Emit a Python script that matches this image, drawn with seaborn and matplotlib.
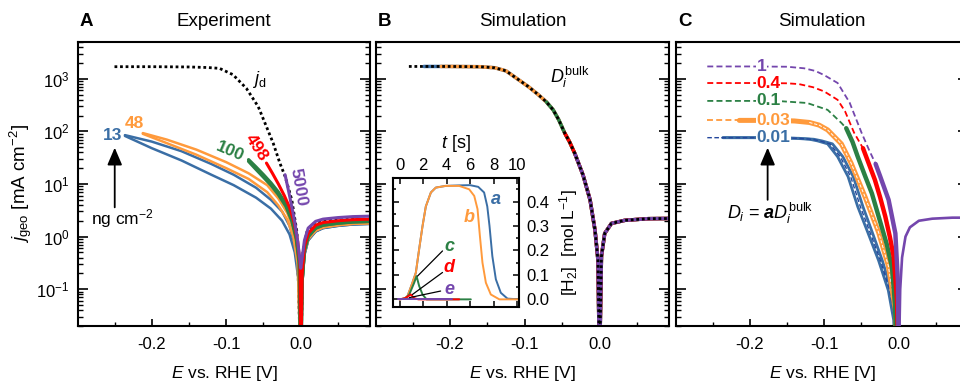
import matplotlib
matplotlib.use("Agg")
import matplotlib.pyplot as plt
import seaborn as sns
from matplotlib.ticker import LogLocator, MultipleLocator, NullFormatter

# style
sns.set_theme(style="ticks")
plt.rcParams["font.family"] = ["Liberation Sans", "DejaVu Sans"]
plt.rcParams.update({
    "mathtext.fontset": "custom",
    "mathtext.rm": "Liberation Sans",
    "mathtext.it": "Liberation Sans:italic",
    "mathtext.bf": "Liberation Sans:bold",
    "axes.unicode_minus": False,
    "axes.linewidth": 1.5,
    "axes.edgecolor": "black",
    "axes.labelcolor": "black",
    "text.color": "black",
    "xtick.color": "black",
    "ytick.color": "black",
    "xtick.direction": "in",
    "ytick.direction": "in",
})
BFIT = "mathtext.bfit" in plt.rcParams
if BFIT:
    plt.rcParams["mathtext.bfit"] = "Liberation Sans:italic:bold"

BLUE = "#3a6ea5"
ORANGE = "#ff9a3c"
GREEN = "#2b8044"
RED = "#ff0000"
PURPLE = "#7446ad"
NAVY = "#24479c"

# ---------------- panel A: experiment ----------------
E_pos = [0.0, 0.002, 0.005, 0.01, 0.02, 0.03, 0.05, 0.07, 0.095]

E_13 = [-0.236, -0.2, -0.16, -0.12, -0.09, -0.06, -0.04, -0.025, -0.015, -0.008, -0.003]
j_13_fwd = [85, 64, 42, 24, 15, 8.5, 5.0, 3.0, 1.6, 0.7, 0.25]
j_13_rev = [82, 48, 28, 15, 9.5, 5.5, 3.4, 2.0, 1.1, 0.5, 0.15]
j_13_pos = [0.003, 0.12, 0.45, 0.85, 1.25, 1.45, 1.6, 1.7, 1.75]

E_48 = [-0.212, -0.18, -0.14, -0.1, -0.07, -0.045, -0.03, -0.018, -0.01, -0.004]
j_48_fwd = [93, 70, 45, 26, 16, 9.5, 5.3, 2.8, 1.4, 0.45]
j_48_rev = [90, 60, 36, 20, 12.5, 7, 3.9, 2.1, 1.0, 0.3]
j_48_pos = [0.003, 0.13, 0.5, 0.9, 1.3, 1.5, 1.65, 1.75, 1.8]

E_100 = [-0.07, -0.06, -0.05, -0.04, -0.03, -0.02, -0.012, -0.006, -0.002]
j_100_fwd = [29, 21, 15, 10.5, 7, 4.2, 2.2, 1.0, 0.35]
j_100_rev = [27, 19, 13.5, 9.5, 6.3, 3.8, 2.0, 0.9, 0.3]
j_100_pos = [0.003, 0.15, 0.55, 1.0, 1.45, 1.65, 1.8, 1.9, 1.95]

E_498 = [-0.046, -0.038, -0.03, -0.022, -0.015, -0.009, -0.004, -0.001]
j_498 = [25, 16, 10, 6, 3.6, 1.9, 0.8, 0.3]
j_498_pos = [0.003, 0.2, 0.65, 1.15, 1.65, 1.85, 2.0, 2.1, 2.15]

E_5000 = [-0.021, -0.016, -0.012, -0.008, -0.004, -0.001]
j_5000 = [15, 7, 3.7, 1.9, 0.8, 0.35]
j_5000_pos = [0.25, 0.4, 0.85, 1.45, 1.95, 2.15, 2.3, 2.4, 2.45]

E_jd = [-0.25, -0.2, -0.15, -0.125, -0.109, -0.091, -0.073, -0.057, -0.046, -0.037, -0.028,
        -0.021, -0.012, -0.005, 0.0, 0.003, 0.008, 0.015, 0.03, 0.06, 0.095]
j_jd = [1700, 1700, 1680, 1640, 1580, 1200, 660, 295, 123, 60, 25,
        14, 5, 1.2, 0.003, 0.5, 1.2, 1.7, 2.0, 2.1, 2.15]

# ---------------- panel B: simulation ----------------
E_sim = [-0.255, -0.235, -0.212, -0.2, -0.16, -0.14, -0.125, -0.11, -0.095, -0.082, -0.071,
         -0.062, -0.0545, -0.0465, -0.04, -0.033, -0.022, -0.0126, -0.006, -0.002, 0.0,
         0.0026, 0.007, 0.016, 0.034, 0.065, 0.095]
j_sim = [1718, 1718, 1718, 1718, 1698, 1622, 1413, 1000, 708, 501, 363,
         257, 166, 93, 63, 38, 14.8, 5.0, 1.32, 0.355, 0.003,
         0.42, 1.15, 1.78, 2.04, 2.19, 2.21]
sim_start = [-0.235, -0.212, -0.071, -0.0465, -0.033]
sim_colors = [BLUE, ORANGE, GREEN, RED, PURPLE]

# inset: [H2] vs t
t_a = [0.0, 0.4, 0.68, 1.1, 1.39, 1.67, 1.96, 2.24, 2.67, 3.09, 3.94, 5.07, 6.0, 6.7,
       7.2, 7.47, 7.66, 7.9, 8.2, 8.62, 9.19, 10.2]
h_a = [0.0, 0.003, 0.013, 0.068, 0.109, 0.205, 0.30, 0.38, 0.437, 0.457, 0.464, 0.466,
       0.467, 0.46, 0.437, 0.38, 0.30, 0.177, 0.082, 0.027, 0.003, 0.0]
t_b = [0.0, 0.4, 0.68, 1.1, 1.39, 1.67, 1.96, 2.24, 2.67, 3.09, 3.94, 5.07, 5.93, 6.36,
       6.64, 6.84, 7.06, 7.35, 7.77, 8.5, 10.2]
h_b = [0.0, 0.003, 0.013, 0.068, 0.109, 0.205, 0.30, 0.38, 0.437, 0.457, 0.464, 0.464,
       0.45, 0.423, 0.369, 0.26, 0.15, 0.068, 0.02, 0.0, 0.0]
t_c = [0.0, 0.5, 0.83, 1.25, 1.45, 1.67, 1.96, 2.3, 6.07]
h_c = [0.0, 0.004, 0.02, 0.068, 0.095, 0.055, 0.02, 0.0, 0.0]
t_d = [0.0, 0.5, 0.96, 1.25, 1.6, 5.08]
h_d = [0.0, 0.005, 0.02, 0.005, 0.0, 0.0]
t_e = [-0.15, 4.5]
h_e = [0.0, 0.0]

# ---------------- panel C: scaled diffusion ----------------
a_labels = ["1", "0.4", "0.1", "0.03", "0.01"]
a_colors = [PURPLE, RED, GREEN, ORANGE, BLUE]
a_plateau = [1718, 832, 380, 162, 76]

E_a1_dash = [-0.257, -0.2, -0.15, -0.127, -0.112, -0.1, -0.082, -0.066, -0.05, -0.04, -0.031]
j_a1_dash = [1718, 1718, 1698, 1585, 1413, 1175, 832, 355, 95, 45, 24]
E_a1 = [-0.031, -0.025, -0.0136, -0.0045, -0.001, 0.0]
j_a1 = [24, 14.1, 5.0, 1.15, 0.13, 0.003]
E_a1_pos = [0.0, 0.002, 0.0045, 0.0091, 0.015, 0.027, 0.045, 0.072, 0.1]
j_a1_pos = [0.003, 0.1, 0.4, 1.0, 1.5, 2.0, 2.19, 2.29, 2.29]

E_a04_dash = [-0.257, -0.2, -0.15, -0.134, -0.115, -0.1, -0.082, -0.072, -0.06, -0.048]
j_a04_dash = [832, 832, 822, 794, 692, 575, 398, 240, 95, 48]
E_a04 = [-0.048, -0.04, -0.032, -0.025, -0.018, -0.012, -0.0068, -0.0023, 0.0]
j_a04 = [48, 24, 12, 5.6, 2.4, 1.0, 0.42, 0.063, 0.003]

E_a01_dash = [-0.257, -0.2, -0.164, -0.123, -0.0955, -0.077, -0.0705]
j_a01_dash = [380, 380, 380, 347, 257, 145, 115]
E_a01 = [-0.0705, -0.062, -0.055, -0.045, -0.036, -0.023, -0.016, -0.009, -0.005, -0.001]
j_a01 = [115, 63, 33, 14, 6.6, 1.55, 0.71, 0.26, 0.05, 0.001]

E_a003_dash = [-0.257, -0.214]
j_a003_dash = [162, 162]
E_a003 = [-0.214, -0.17, -0.14, -0.12, -0.107, -0.0955, -0.077, -0.064, -0.045, -0.027,
          -0.014, -0.0045, 0.0]
j_a003 = [162, 162, 158, 148, 132, 107, 58, 25, 5.6, 1.2, 0.28, 0.04, 0.001]

j_a0001 = [76, 76, 74, 71, 66, 58, 33, 13.8, 3.7, 1.15, 0.35, 0.095, 0.026, 0.001]
E_a0001_out = [-0.236, -0.18, -0.14, -0.12, -0.109, -0.0955, -0.082, -0.068, -0.055,
               -0.041, -0.027, -0.014, -0.0068, -0.003]
E_a0001_in = [-0.236, -0.18, -0.134, -0.114, -0.103, -0.089, -0.075, -0.061, -0.048,
              -0.035, -0.022, -0.01, -0.004, -0.001]
E_a0001_mid = [-0.257, -0.18, -0.137, -0.117, -0.106, -0.0925, -0.0785, -0.0645, -0.0515,
               -0.038, -0.0245, -0.012, -0.0054, -0.002]


def line(ax, x, y, color, lw, ls="-", z=2):
    sns.lineplot(x=x, y=y, ax=ax, color=color, linewidth=lw, linestyle=ls,
                 sort=False, estimator=None, legend=False, zorder=z)


W, H = 960, 385


def box(l, t, r, b):
    return [l / W, 1 - b / H, (r - l) / W, (b - t) / H]


fig = plt.figure(figsize=(9.6, 3.85), dpi=100)
axA = fig.add_axes(box(78, 42, 370, 326))
axB = fig.add_axes(box(376, 42, 669, 326))
axC = fig.add_axes(box(676, 42, 968, 326))

for ax in (axA, axB, axC):
    ax.set_yscale("log")

DOT = (0, (1, 1))
DASH = (0, (3.3, 1.8))

# panel A
line(axA, E_jd, j_jd, "black", 2.0, DOT, z=1)
line(axA, E_13 + E_pos, j_13_fwd + j_13_pos, BLUE, 1.8)
line(axA, E_13 + E_pos, j_13_rev + j_13_pos, BLUE, 1.8)
line(axA, E_48 + E_pos, j_48_fwd + j_48_pos, ORANGE, 1.8)
line(axA, E_48 + E_pos, j_48_rev + j_48_pos, ORANGE, 1.8)
line(axA, E_100 + E_pos, j_100_fwd + j_100_pos, GREEN, 2.4)
line(axA, E_100 + E_pos, j_100_rev + j_100_pos, GREEN, 2.4)
line(axA, E_498 + E_pos, j_498 + j_498_pos, RED, 2.2)
line(axA, E_5000 + E_pos, j_5000 + j_5000_pos, PURPLE, 2.2)

lab = dict(fontsize=12.5, fontweight="bold", ha="center", va="center")
axA.text(-0.252, 85, "13", color=BLUE, **lab)
axA.text(-0.223, 141, "48", color=ORANGE, **lab)
axA.text(-0.0953, 41, "100", color=GREEN, rotation=-23, **lab)
axA.text(-0.059, 50, "498", color=RED, rotation=-57, **lab)
axA.text(-0.004, 8.7, "5000", color=PURPLE, rotation=-80, **lab)
axA.text(-0.0557, 955, r"$j_{\rm d}$", fontsize=13, ha="center", va="center")
arrow = dict(arrowstyle="-|>,head_length=0.7,head_width=0.3", color="black", lw=1.3,
             mutation_scale=15, shrinkA=0, shrinkB=0)
axA.annotate("", xy=(-0.2497, 49), xytext=(-0.2497, 3.6), arrowprops=arrow)
axA.text(-0.239, 2.24, r"ng cm$^{-2}$", fontsize=12.5, ha="center", va="center")

# panel B
for start, col in zip(sim_start, sim_colors):
    Es = [e for e in E_sim if e >= start]
    js = [j for e, j in zip(E_sim, j_sim) if e >= start]
    line(axB, Es, js, col, 2.5)
line(axB, E_sim, j_sim, "black", 2.0, DOT, z=5)
axB.text(-0.04, 1070, r"$D_i^{\rm bulk}$", fontsize=13, ha="center", va="center")

# panel C
line(axC, E_a1_dash, j_a1_dash, PURPLE, 1.3, DASH)
line(axC, E_a04_dash, j_a04_dash, RED, 1.3, DASH)
line(axC, E_a01_dash, j_a01_dash, GREEN, 1.3, DASH)
line(axC, E_a003_dash, j_a003_dash, ORANGE, 1.3, DASH)
line(axC, E_a0001_out, j_a0001, BLUE, 2.0)
line(axC, E_a0001_in, j_a0001, BLUE, 2.0)
line(axC, E_a0001_mid, j_a0001, NAVY, 1.0, DASH, z=3)
line(axC, E_a003, j_a003, ORANGE, 3.6, z=3)
E_w = [e for e in E_a003 if e > -0.125]
j_w = [j for e, j in zip(E_a003, j_a003) if e > -0.125]
line(axC, E_w, j_w, "white", 0.7, DASH, z=3.5)
line(axC, E_a01, j_a01, GREEN, 3.2, z=4)
line(axC, E_a04, j_a04, RED, 3.2, z=4)
line(axC, E_a1, j_a1, PURPLE, 3.2, z=4)
line(axC, E_a1_pos, j_a1_pos, PURPLE, 1.9, z=4)

for txt, col, jv in zip(a_labels, a_colors, a_plateau):
    axC.text(-0.191, jv, txt, color=col, fontsize=12.5, fontweight="bold", ha="left",
             va="center", zorder=6,
             bbox=dict(facecolor="white", edgecolor="none", pad=0.6))
axC.annotate("", xy=(-0.176, 49), xytext=(-0.176, 5.0), arrowprops=arrow)
a_sym = r"\mathbfit{a}" if BFIT else r"\mathbf{a}"
axC.text(-0.173, 2.8, r"$D_i$ = $" + a_sym + r"D_i^{\rm bulk}$", fontsize=13,
         ha="center", va="center")

# axes cosmetics
for ax in (axA, axB, axC):
    ax.set_xlim(-0.299, 0.093)
    ax.set_ylim(10 ** -1.7, 10 ** 3.7)
    ax.xaxis.set_major_locator(MultipleLocator(0.1))
    ax.xaxis.set_minor_locator(MultipleLocator(0.05))
    ax.yaxis.set_major_locator(LogLocator(base=10, numticks=12))
    ax.yaxis.set_minor_locator(LogLocator(base=10, subs=range(2, 10), numticks=12))
    ax.yaxis.set_minor_formatter(NullFormatter())
    ax.tick_params(which="both", direction="in", left=True, right=True, top=False,
                   bottom=True, labelsize=12)
    ax.tick_params(axis="y", which="major", length=7, width=1.2, pad=6)
    ax.tick_params(axis="y", which="minor", length=3.5, width=1.0)
    ax.tick_params(axis="x", which="major", length=5, width=1.2, pad=8)
    ax.tick_params(axis="x", which="minor", length=3, width=1.0)
    ax.set_xlabel(r"$E$ vs. RHE [V]", fontsize=12.5)
    ax.xaxis.set_label_coords(0.5, -0.133)
    ax.set_ylabel("")
axA.set_ylabel(r"$j_{\rm geo}$ [mA cm$^{-2}$]", fontsize=13.5)
axA.yaxis.set_label_coords(-0.15, 0.5)
axB.tick_params(labelleft=False)
axC.tick_params(labelleft=False)

# inset
ins = fig.add_axes(box(392.7, 178.3, 519, 306.7))
ins.set_facecolor("white")
line(ins, t_a, h_a, BLUE, 1.4)
line(ins, t_b, h_b, ORANGE, 1.4)
line(ins, t_c, h_c, GREEN, 1.4)
line(ins, t_d, h_d, RED, 1.4)
line(ins, t_e, h_e, PURPLE, 1.4)
ilab = dict(fontsize=13, fontweight="bold", fontstyle="italic", ha="center", va="center")
ins.text(8.2, 0.41, "a", color=BLUE, **ilab)
ins.text(5.93, 0.334, "b", color=ORANGE, **ilab)
ins.text(4.23, 0.218, "c", color=GREEN, **ilab)
ins.text(4.23, 0.13, "d", color=RED, **ilab)
ins.text(4.23, 0.041, "e", color=PURPLE, **ilab)
leader = dict(arrowstyle="-", color="black", lw=0.9, shrinkA=0, shrinkB=0)
ins.annotate("", xy=(1.53, 0.095), xytext=(3.66, 0.198), arrowprops=leader)
ins.annotate("", xy=(1.1, 0.02), xytext=(3.66, 0.11), arrowprops=leader)
ins.annotate("", xy=(0.83, 0.007), xytext=(3.5, 0.034), arrowprops=leader)
ins.set_xlim(-0.58, 10.17)
ins.set_ylim(-0.03, 0.495)
ins.xaxis.set_major_locator(MultipleLocator(2))
ins.yaxis.set_major_locator(MultipleLocator(0.1))
ins.yaxis.set_minor_locator(MultipleLocator(0.05))
ins.tick_params(axis="x", which="both", direction="in", top=True, bottom=True,
                labeltop=True, labelbottom=False, labelsize=12, length=4, width=1.1, pad=4)
ins.tick_params(axis="y", which="both", direction="in", left=True, right=True,
                labelleft=False, labelright=True, labelsize=12, width=1.1, pad=5)
ins.tick_params(axis="y", which="major", length=4)
ins.tick_params(axis="y", which="minor", length=2)
ins.xaxis.set_label_position("top")
ins.set_xlabel(r"$t$ [s]", fontsize=13)
ins.xaxis.set_label_coords(0.5, 1.236)
ins.yaxis.set_label_position("right")
ins.set_ylabel(r"[H$_2$]  [mol L$^{-1}$]", fontsize=12.5)
ins.yaxis.set_label_coords(1.30, 0.5)

# panel letters and titles
for letter, xl, title, xc in (("A", 80, "Experiment", 224), ("B", 378, "Simulation", 522.5),
                              ("C", 678, "Simulation", 822)):
    fig.text(xl / W, 1 - 22 / H, letter, fontsize=13.5, fontweight="bold", ha="left",
             va="center")
    fig.text(xc / W, 1 - 22 / H, title, fontsize=13.5, ha="center", va="center")

fig.savefig("out.png", dpi=100)
